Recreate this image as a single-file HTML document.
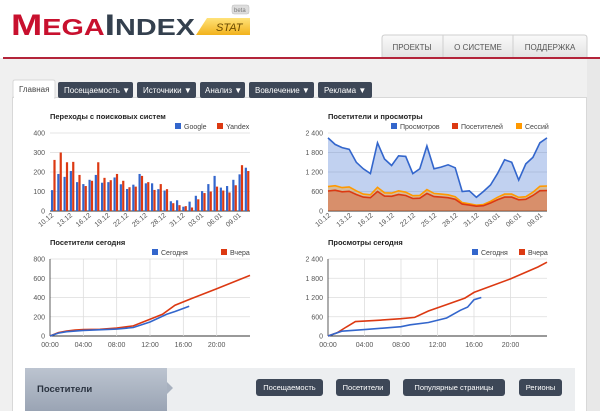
<!DOCTYPE html>
<html><head><meta charset="utf-8"><style>
body{margin:0;width:600px;height:411px;overflow:hidden;background:#fff;font-family:"Liberation Sans",sans-serif}
svg text{font-family:"Liberation Sans",sans-serif}
</style></head><body>
<svg id="s" width="600" height="411" xmlns="http://www.w3.org/2000/svg">
<defs>
<linearGradient id="gy" x1="0" y1="0" x2="0" y2="1"><stop offset="0" stop-color="#ffe27a"/><stop offset="1" stop-color="#f2b21c"/></linearGradient>
<linearGradient id="nv" x1="0" y1="0" x2="0" y2="1"><stop offset="0" stop-color="#fafafa"/><stop offset="1" stop-color="#e2e2e2"/></linearGradient>
<linearGradient id="bl" x1="0" y1="0" x2="0" y2="1"><stop offset="0" stop-color="#bcc4d0"/><stop offset="1" stop-color="#9aa4b4"/></linearGradient>
</defs>
<rect x="0" y="58" width="600" height="353" fill="#f0f0f0"/>
<rect x="587" y="58" width="13" height="353" fill="#e8e8e8"/>
<!-- logo -->
<text x="11" y="35" font-size="30" font-weight="bold" fill="#c8102e" textLength="184" lengthAdjust="spacingAndGlyphs">M<tspan font-size="23">EGA</tspan><tspan fill="#34404e" font-size="30">I</tspan><tspan fill="#34404e" font-size="23">NDEX</tspan></text>
<path d="M207 18 L250 18 L250 35 L196 35 Z" fill="url(#gy)"/>
<text x="216" y="31" font-size="11" font-style="italic" fill="#6a4a00">STAT</text>
<rect x="232" y="5" width="17" height="9" rx="2" fill="#ddd" stroke="#bbb" stroke-width="0.5"/>
<text x="234" y="12" font-size="6" fill="#777">beta</text>
<!-- nav -->
<path d="M382 58 V38 Q382 35 385 35 H584 Q587 35 587 38 V58 Z" fill="url(#nv)" stroke="#cfcfcf"/>
<line x1="443" y1="35" x2="443" y2="58" stroke="#cfcfcf"/><line x1="513" y1="35" x2="513" y2="58" stroke="#cfcfcf"/>
<text x="412" y="50" font-size="8" fill="#555" text-anchor="middle">ПРОЕКТЫ</text>
<text x="478" y="50" font-size="8" fill="#555" text-anchor="middle">О СИСТЕМЕ</text>
<text x="550" y="50" font-size="8" fill="#555" text-anchor="middle">ПОДДЕРЖКА</text>
<rect x="3" y="57" width="597" height="2" fill="#b3243a"/>
<!-- panel -->
<rect x="12.5" y="97.5" width="574" height="320" fill="#fff" stroke="#d8d8d8"/>
<path d="M13 97 V82 Q13 80 15 80 H53 Q55 80 55 82 V98 Z" fill="#fff" stroke="#d8d8d8"/>
<rect x="14" y="96" width="40" height="3" fill="#fff"/>
<text x="19" y="92" font-size="8" fill="#444">Главная</text>
<g font-size="8" fill="#fff">
<rect x="58" y="82" width="75" height="16" rx="2" fill="#3d4757"/><text x="64" y="93">Посещаемость ▼</text>
<rect x="137" y="82" width="59" height="16" rx="2" fill="#3d4757"/><text x="143" y="93">Источники ▼</text>
<rect x="200" y="82" width="45" height="16" rx="2" fill="#3d4757"/><text x="205" y="93">Анализ ▼</text>
<rect x="249" y="82" width="65" height="16" rx="2" fill="#3d4757"/><text x="255" y="93">Вовлечение ▼</text>
<rect x="318" y="82" width="54" height="16" rx="2" fill="#3d4757"/><text x="324" y="93">Реклама ▼</text>
</g>
<!-- titles -->
<g font-size="7.5" font-weight="bold" fill="#222">
<text x="50" y="119">Переходы с поисковых систем</text>
<text x="328" y="119">Посетители и просмотры</text>
<text x="50" y="245">Посетители сегодня</text>
<text x="328" y="245">Просмотры сегодня</text>
</g>
<g font-size="7" fill="#444">
<rect x="175" y="123" width="6" height="6" fill="#3366cc"/><text x="184" y="129">Google</text>
<rect x="217" y="123" width="6" height="6" fill="#dc3912"/><text x="226" y="129">Yandex</text>
<rect x="391" y="123" width="6" height="6" fill="#3366cc"/><text x="400" y="129">Просмотров</text>
<rect x="452" y="123" width="6" height="6" fill="#dc3912"/><text x="461" y="129">Посетителей</text>
<rect x="516" y="123" width="6" height="6" fill="#ff9900"/><text x="525" y="129">Сессий</text>
<rect x="152" y="249" width="6" height="6" fill="#3366cc"/><text x="161" y="255">Сегодня</text>
<rect x="221" y="249" width="6" height="6" fill="#dc3912"/><text x="230" y="255">Вчера</text>
<rect x="472" y="249" width="6" height="6" fill="#3366cc"/><text x="481" y="255">Сегодня</text>
<rect x="519" y="249" width="6" height="6" fill="#dc3912"/><text x="528" y="255">Вчера</text>
</g>
<g id="c"></g>
<!-- bottom bar -->
<rect x="25" y="368" width="550" height="43" fill="#eceef0"/>
<rect x="25" y="368" width="142" height="43" fill="url(#bl)"/>
<path d="M167 382 L173 388 L167 394 Z" fill="#a8b1bf"/>
<text x="37" y="392" font-size="9.5" font-weight="bold" fill="#2a3340">Посетители</text>
<g font-size="7.5" fill="#fff" text-anchor="middle">
<rect x="256" y="379" width="67" height="17" rx="3" fill="#3d4757"/><text x="289.5" y="390">Посещаемость</text>
<rect x="336" y="379" width="54" height="17" rx="3" fill="#3d4757"/><text x="363" y="390">Посетители</text>
<rect x="403" y="379" width="102" height="17" rx="3" fill="#3d4757"/><text x="454" y="390">Популярные страницы</text>
<rect x="519" y="379" width="43" height="17" rx="3" fill="#3d4757"/><text x="540.5" y="390">Регионы</text>
</g>
</svg>
<script>
var NS="http://www.w3.org/2000/svg",g=document.getElementById('c');
function el(t,a,txt){var e=document.createElementNS(NS,t);for(var k in a)e.setAttribute(k,a[k]);if(txt)e.textContent=txt;g.appendChild(e);return e;}
function axes(x0,x1,yt,yb,labels,vgrid){
 var n=labels.length-1;
 for(var i=0;i<=n;i++){var y=yb-(yb-yt)*i/n;
  el('line',{x1:x0,x2:x1,y1:y,y2:y,stroke:i==0?'#333':'#ddd','stroke-width':i==0?1:0.8});
  el('text',{x:x0-5,y:y+2.5,'font-size':7,fill:'#555','text-anchor':'end'},labels[i]);}
 if(vgrid){for(var j=0;j<vgrid.n;j++){var x=x0+(x1-x0)*j/6;
  if(j>0)el('line',{x1:x,x2:x,y1:yt,y2:yb,stroke:'#ddd','stroke-width':0.8});
  el('text',{x:x,y:yb+11,'font-size':7,fill:'#555','text-anchor':'middle'},vgrid.l[j]);}
  el('line',{x1:x0,x2:x0,y1:yt,y2:yb,stroke:'#333','stroke-width':0.8});}
}
var G=[107,190,175,205,148,138,160,185,145,148,172,137,113,135,190,142,142,112,105,50,55,22,48,78,102,138,180,120,128,160,188,222];
var Y=[262,300,250,252,185,128,155,250,170,158,190,155,122,125,180,148,108,138,112,40,30,25,18,60,92,100,125,105,95,132,235,205];
axes(50,250,133,211,['0','100','200','300','400']);
var n=G.length,w=200/n,sc=78/400;
var dl=['10.12','13.12','16.12','19.12','22.12','25.12','28.12','31.12','03.01','06.01','09.01'];
for(var i=0;i<n;i++){var x=50+i*w+1;
 el('rect',{x:x,y:211-G[i]*sc,width:2.2,height:G[i]*sc,fill:'#3366cc'});
 el('rect',{x:x+2.4,y:211-Y[i]*sc,width:2.2,height:Y[i]*sc,fill:'#dc3912'});
 if(i%3==0){var lx=x+3;el('text',{x:lx,y:216,'font-size':7,fill:'#555','text-anchor':'end',transform:'rotate(-40 '+lx+' 216)'},dl[i/3]);}}
var P=[2250,2050,1950,1900,1500,1300,1150,2100,1600,1400,1700,1680,1150,1300,2000,1300,1350,1420,1330,600,620,420,600,800,1150,1580,1500,950,1450,1650,2100,2250];
var S=[750,780,720,740,620,520,500,730,560,550,620,580,470,480,660,540,520,500,440,260,220,180,200,300,420,520,520,420,440,580,760,770];
axes(328,547,133,211,['0','600','1 200','1 800','2 400']);
function pts(a,x0,x1,yb,s){var r=[];for(var i=0;i<a.length;i++)r.push((x0+(x1-x0)*i/(a.length-1)).toFixed(1)+','+(yb-a[i]*s).toFixed(1));return r;}
var s2=78/2400;
function area(a,fill,stroke,op){var p=pts(a,328,547,211,s2);
 el('polygon',{points:'328,211 '+p.join(' ')+' 547,211',fill:fill,'fill-opacity':op});
 el('polyline',{points:p.join(' '),fill:'none',stroke:stroke,'stroke-width':1.6});}
area(P,'#3366cc','#3366cc',0.3);
area(S,'#ff9900','#ff9900',0.35);
area(S.map(function(v){return v*0.82}),'#dc3912','#dc3912',0.35);
for(var i=0;i<n;i+=3){var lx=328+219*i/(n-1)+3;el('text',{x:lx,y:216,'font-size':7,fill:'#555','text-anchor':'end',transform:'rotate(-40 '+lx+' 216)'},dl[i/3]);}
var tl=['00:00','04:00','08:00','12:00','16:00','20:00'];
function line(d,x0,x1,yb,s,c){var r=d.map(function(p){return (x0+(x1-x0)*p[0]/24).toFixed(1)+','+(yb-p[1]*s).toFixed(1)});el('polyline',{points:r.join(' '),fill:'none',stroke:c,'stroke-width':1.6});}
axes(50,250,259,336,['0','200','400','600','800'],{n:6,l:tl});
var s3=77/800;
line([[0,0],[1,35],[2,52],[3,62],[4,66],[6,70],[8,82],[10,105],[12,175],[13.5,225],[15,320],[17,390],[20,490],[24,630]],50,250,336,s3,'#dc3912');
line([[0,0],[1,30],[2,45],[4,58],[8,72],[10,88],[12,145],[14,225],[15,255],[16.7,310]],50,250,336,s3,'#3366cc');
axes(328,547,259,336,['0','600','1 200','1 800','2 400'],{n:6,l:tl});
var s4=77/2400;
line([[0,0],[1,100],[2,280],[3,450],[5,480],[8,540],[9.5,580],[11,780],[13,980],[15,1180],[16,1360],[20,1780],[23,2150],[24,2300]],328,547,336,s4,'#dc3912');
line([[0,0],[1.5,150],[4,200],[8,290],[9,350],[11,420],[13,560],[14.5,800],[15.3,900],[16,1130],[16.8,1200]],328,547,336,s4,'#3366cc');
</script>
</body></html>
